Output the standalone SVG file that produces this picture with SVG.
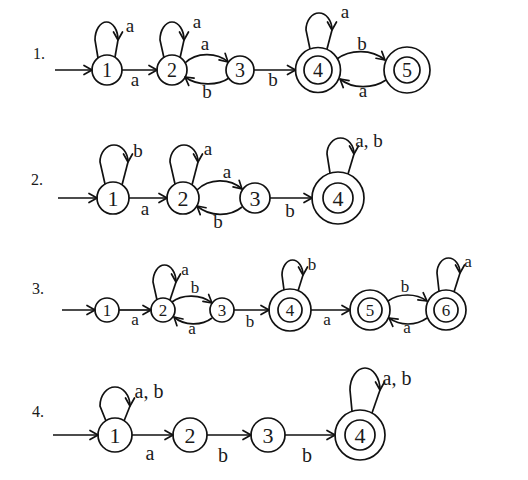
<svg xmlns="http://www.w3.org/2000/svg" width="528" height="480" viewBox="0 0 528 480">
<defs>
<marker id="arr" viewBox="-10 -6 12 12" refX="0" refY="0" markerWidth="12" markerHeight="12" markerUnits="userSpaceOnUse" orient="auto">
<path d="M -8 -4.5 L 0 0 L -8 4.5" fill="none" stroke="#111" stroke-width="1.7" stroke-linecap="round" stroke-linejoin="round"/>
</marker>
</defs>
<style>
.st{fill:none;stroke:#111;stroke-width:1.7}
.ln{fill:none;stroke:#111;stroke-width:1.7}
.ar{marker-end:url(#arr)}
text{font-family:"Liberation Serif","Times New Roman",serif;fill:#1a1a1a}
.d1{font-size:20px;text-anchor:middle}
.d2{font-size:22px;text-anchor:middle}
.d3{font-size:17px;text-anchor:middle}
.d4{font-size:22px;text-anchor:middle}
.l1{font-size:19px;text-anchor:middle}
.l3{font-size:17px;text-anchor:middle}
.l4{font-size:20px;text-anchor:middle}
.row{font-size:16px}
</style>
<rect width="528" height="480" fill="#fff"/>

<g id="row-labels" font-family="Liberation Serif, serif">
<text class="row" x="33" y="59">1.</text>
<text class="row" x="31" y="185">2.</text>
<text class="row" x="32" y="294">3.</text>
<text class="row" x="32" y="417">4.</text>
</g>

<g font-family="Liberation Serif, serif">
<!-- Row 1 nodes -->
<g id="r1-n1"><circle class="st" cx="107" cy="70" r="15"/><text class="d1" x="107" y="77">1</text></g>
<g id="r1-n2"><circle class="st" cx="172" cy="70" r="15"/><text class="d1" x="172" y="77">2</text></g>
<g id="r1-n3"><circle class="st" cx="240" cy="70" r="14"/><text class="d1" x="240" y="77">3</text></g>
<g id="r1-n4"><circle class="st" cx="318" cy="70" r="22.5"/><circle class="st" cx="318" cy="70" r="14"/><text class="d1" x="318" y="77">4</text></g>
<g id="r1-n5"><circle class="st" cx="407" cy="70" r="23"/><circle class="st" cx="407" cy="70" r="13"/><text class="d1" x="407" y="77">5</text></g>

<!-- Row 2 nodes -->
<g id="r2-n1"><circle class="st" cx="113" cy="198" r="16"/><text class="d2" x="113" y="205.5">1</text></g>
<g id="r2-n2"><circle class="st" cx="183" cy="198" r="16"/><text class="d2" x="183" y="205.5">2</text></g>
<g id="r2-n3"><circle class="st" cx="255" cy="198" r="15"/><text class="d2" x="255" y="205.5">3</text></g>
<g id="r2-n4"><circle class="st" cx="338" cy="198" r="26"/><circle class="st" cx="338" cy="198" r="15"/><text class="d2" x="338" y="205.5">4</text></g>

<!-- Row 3 nodes -->
<g id="r3-n1"><circle class="st" cx="107" cy="310" r="12"/><text class="d3" x="107" y="316">1</text></g>
<g id="r3-n2"><circle class="st" cx="163" cy="310" r="12"/><text class="d3" x="163" y="316">2</text></g>
<g id="r3-n3"><circle class="st" cx="222" cy="310" r="12"/><text class="d3" x="222" y="316">3</text></g>
<g id="r3-n4"><circle class="st" cx="290" cy="310" r="21"/><circle class="st" cx="290" cy="310" r="12"/><text class="d3" x="290" y="316">4</text></g>
<g id="r3-n5"><circle class="st" cx="370" cy="310" r="20"/><circle class="st" cx="370" cy="310" r="12"/><text class="d3" x="370" y="316">5</text></g>
<g id="r3-n6"><circle class="st" cx="446" cy="310" r="20"/><circle class="st" cx="446" cy="310" r="12"/><text class="d3" x="446" y="316">6</text></g>

<!-- Row 4 nodes -->
<g id="r4-n1"><circle class="st" cx="115" cy="435" r="17"/><text class="d4" x="115" y="442.5">1</text></g>
<g id="r4-n2"><circle class="st" cx="190" cy="435" r="17"/><text class="d4" x="190" y="442.5">2</text></g>
<g id="r4-n3"><circle class="st" cx="268" cy="435" r="17"/><text class="d4" x="268" y="442.5">3</text></g>
<g id="r4-n4"><circle class="st" cx="360" cy="435" r="25"/><circle class="st" cx="360" cy="435" r="15"/><text class="d4" x="360" y="442.5">4</text></g>
</g>

<g id="connectors">
<!-- Row 1 -->
<path class="ln ar" d="M 55 70 L 92 70"/>
<path class="ln ar" d="M 98 58 L 95 40 A 11.5 18 0 0 1 118 40"/><path class="ln" d="M 118 40 L 115 57"/>
<path class="ln ar" d="M 122 70 L 157 70"/>
<path class="ln ar" d="M 164 58 L 160 40 A 12 18 0 0 1 184 40"/><path class="ln" d="M 184 40 L 180 58"/>
<path class="ln ar" d="M 185 63 C 196 52, 217 52, 228 62"/>
<path class="ln ar" d="M 229 78 C 218 86, 197 86, 185 77"/>
<path class="ln ar" d="M 254 70 L 295.5 70"/>
<path class="ln ar" d="M 310 49 L 306 30 A 13 17 0 0 1 332 30"/><path class="ln" d="M 332 30 L 327 49"/>
<path class="ln ar" d="M 337 59 C 350 49, 372 49, 385 60"/>
<path class="ln ar" d="M 386 80 C 373 89, 352 89, 340 79"/>
<!-- Row 2 -->
<path class="ln ar" d="M 58 198 L 97 198"/>
<path class="ln ar" d="M 105 184 L 100 162 A 14 17 0 0 1 128 162"/><path class="ln" d="M 128 162 L 122 185"/>
<path class="ln ar" d="M 129 198 L 167 198"/>
<path class="ln ar" d="M 175 184 L 170 162 A 14 17 0 0 1 198 162"/><path class="ln" d="M 198 162 L 192 185"/>
<path class="ln ar" d="M 197 190 C 209 178, 230 178, 242 189"/>
<path class="ln ar" d="M 242 207 C 230 217, 210 217, 197 206"/>
<path class="ln ar" d="M 270 198 L 312 198"/>
<path class="ln ar" d="M 330 173 L 327 154 A 13.5 16 0 0 1 354 154"/><path class="ln" d="M 354 154 L 348 174"/>
<!-- Row 3 -->
<path class="ln ar" d="M 62 310 L 95 310"/>
<path class="ln ar" d="M 119 310 L 151 310"/>
<path class="ln ar" d="M 157 300 L 153 282 A 11.5 17 0 0 1 176 282"/><path class="ln" d="M 176 282 L 170 300"/>
<path class="ln ar" d="M 172 302 C 182 294, 201 294, 212 303"/>
<path class="ln ar" d="M 212 318 C 202 326, 184 326, 174 317"/>
<path class="ln ar" d="M 234 310 L 269 310"/>
<path class="ln ar" d="M 284 290 L 282 275 A 10.5 15 0 0 1 303 275"/><path class="ln" d="M 303 275 L 298 291"/>
<path class="ln ar" d="M 311 310 L 350 310"/>
<path class="ln ar" d="M 388 301 C 399 293, 416 293, 427 301"/>
<path class="ln ar" d="M 427 318 C 416 326, 400 326, 389 318"/>
<path class="ln ar" d="M 439 291 L 437 273 A 11.5 15 0 0 1 460 273"/><path class="ln" d="M 460 273 L 454 292"/>
<!-- Row 4 -->
<path class="ln ar" d="M 53 435 L 98 435"/>
<path class="ln ar" d="M 106 421 L 100 406 A 15 19 0 0 1 130 406"/><path class="ln" d="M 130 406 L 124 421"/>
<path class="ln ar" d="M 132 435 L 173 435"/>
<path class="ln ar" d="M 207 435 L 251 435"/>
<path class="ln ar" d="M 285 435 L 335 435"/>
<path class="ln ar" d="M 352 411 L 350 390 A 15 22 0 0 1 380 390"/><path class="ln" d="M 380 390 L 372 413"/>
</g>

<g id="edge-labels" font-family="Liberation Serif, serif">
<text class="l1" x="130" y="32">a</text>
<text class="l1" x="135" y="86">a</text>
<text class="l1" x="197" y="28">a</text>
<text class="l1" x="205" y="50">a</text>
<text class="l1" x="207" y="98">b</text>
<text class="l1" x="273" y="86">b</text>
<text class="l1" x="345" y="18">a</text>
<text class="l1" x="362" y="50">b</text>
<text class="l1" x="363" y="97">a</text>

<text class="l1" x="138" y="157">b</text>
<text class="l1" x="145" y="215">a</text>
<text class="l1" x="208" y="155">a</text>
<text class="l1" x="227" y="178">a</text>
<text class="l1" x="218" y="228">b</text>
<text class="l1" x="290" y="217">b</text>
<text class="l1" x="369" y="147">a, b</text>

<text class="l3" x="135" y="325">a</text>
<text class="l3" x="185" y="275">a</text>
<text class="l3" x="195" y="293">b</text>
<text class="l3" x="192" y="334">a</text>
<text class="l3" x="250" y="327">b</text>
<text class="l3" x="312" y="270">b</text>
<text class="l3" x="327" y="325">a</text>
<text class="l3" x="405" y="292">b</text>
<text class="l3" x="407" y="333">a</text>
<text class="l3" x="468" y="267">a</text>

<text class="l4" x="149" y="398">a, b</text>
<text class="l4" x="150" y="460">a</text>
<text class="l4" x="223" y="462">b</text>
<text class="l4" x="307" y="462">b</text>
<text class="l4" x="397" y="385">a, b</text>
</g>
</svg>
